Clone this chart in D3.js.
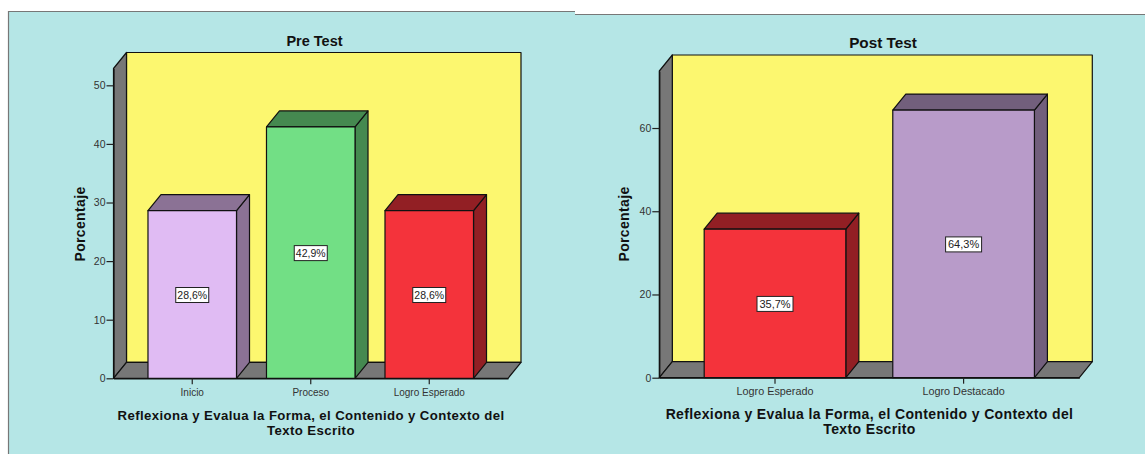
<!DOCTYPE html>
<html><head><meta charset="utf-8">
<script src="https://cdn.jsdelivr.net/npm/d3@7"></script>
<style>html,body{margin:0;padding:0;background:#fff}svg{display:block}text{font-family:"Liberation Sans",Arial,sans-serif}</style>
</head><body><svg id="c" width="1145" height="454"></svg>
<script>
const preCategories = ["Inicio","Proceso","Logro Esperado"];
const preValues = [28.6,42.9,28.6];
const preLabels = ["28,6%","42,9%","28,6%"];
const preColors = ["#e0bbf3","#72df85","#f4333b"];
const preDark = ["#8b7295","#458950","#921f24"];
const preTicks = [0,10,20,30,40,50];
const postCategories = ["Logro Esperado","Logro Destacado"];
const postValues = [35.7,64.3];
const postLabels = ["35,7%","64,3%"];
const postColors = ["#f4333b","#b89bc9"];
const postDark = ["#921f24","#725f7c"];
const postTicks = [0,20,40,60];
const xTitleLines = ["Reflexiona y Evalua la Forma, el Contenido y Contexto del","Texto Escrito"];

const svg = d3.select("#c");
const BG="#b5e6e6", WALL="#fcf76f", SIDE="#777777", INK="#111";
svg.append("path").attr("d","M8 454V11.5H575V14.5H1145V454Z").attr("fill",BG);
svg.append("path").attr("d","M8.5 454V11.5H575M575 14.5H1145").attr("fill","none").attr("stroke","#777").attr("stroke-width",1.2);

function chart(o){
  const g=svg.append("g"), dx=13, dy=16;
  const x=d3.scaleBand().domain(o.cats).range([o.x0,o.x1]).paddingInner(o.pi).paddingOuter(o.po).align(.5);
  const y=d3.scaleLinear().domain([0,o.max]).range([o.y0,o.yTop]);
  const line=(pts,fill)=>g.append("path").attr("d","M"+pts.map(p=>p.join(" ")).join("L")+"Z")
    .attr("fill",fill).attr("stroke",INK).attr("stroke-width",1.2).attr("stroke-linejoin","round");
  line([[o.x0+dx,o.yTop-dy],[o.x1+dx,o.yTop-dy],[o.x1+dx,o.y0-dy],[o.x0+dx,o.y0-dy]],WALL);
  line([[o.x0,o.yTop],[o.x0+dx,o.yTop-dy],[o.x0+dx,o.y0-dy],[o.x0,o.y0]],SIDE);
  line([[o.x0,o.y0],[o.x0+dx,o.y0-dy],[o.x1+dx,o.y0-dy],[o.x1,o.y0]],SIDE);
  o.vals.forEach((v,i)=>{
    const l=x(o.cats[i]), r=l+x.bandwidth(), t=y(v), b=y(0);
    line([[r,t],[r+dx,t-dy],[r+dx,b-dy],[r,b]],o.dark[i]);
    line([[l,t],[l+dx,t-dy],[r+dx,t-dy],[r,t]],o.dark[i]);
    line([[l,t],[r,t],[r,b],[l,b]],o.colors[i]);
    const cx=(l+r)/2, cy=(t+b)/2;
    g.append("rect").attr("x",cx-o.boxW/2).attr("y",cy-7.5+.5).attr("width",o.boxW).attr("height",15)
      .attr("fill","#fff").attr("stroke","#222").attr("stroke-width",1);
    g.append("text").attr("x",cx).attr("y",cy+4.3).attr("text-anchor","middle").attr("font-size",o.valFont).attr("fill","#222").text(o.labels[i]);
  });
  const ya=g.append("g").attr("transform",`translate(${o.x0},0)`).call(d3.axisLeft(y).tickValues(o.ticks).tickFormat(d3.format("d")).tickSizeInner(7).tickSizeOuter(0).tickPadding(1));
  const xa=g.append("g").attr("transform",`translate(0,${o.y0})`).call(d3.axisBottom(x).tickSizeInner(6).tickSizeOuter(0).tickPadding(o.xPad));
  [ya,xa].forEach(a=>{a.selectAll("text").attr("font-family","'Liberation Sans',Arial,sans-serif").attr("fill","#333");
    a.selectAll("line").attr("stroke","#222").attr("stroke-width",1.2);
    a.select(".domain").attr("stroke",INK).attr("stroke-width",1.2);});
  ya.selectAll("text").attr("font-size",10.5);
  xa.selectAll("text").attr("font-size",o.xFont);
  g.append("text").attr("x",o.titleX).attr("y",o.titleY).attr("text-anchor","middle").attr("font-weight","bold").attr("font-size",o.titleFont).attr("fill","#111").text(o.title);
  g.append("text").attr("transform",`translate(${o.yTitleX},224) rotate(-90)`).attr("text-anchor","middle").attr("font-weight","bold").attr("font-size",14).attr("letter-spacing",.35).attr("fill","#111").text("Porcentaje");
  xTitleLines.forEach((s,i)=>g.append("text").attr("x",o.xTitleX).attr("y",o.xTitleY+i*o.lh).attr("text-anchor","middle").attr("font-weight","bold").attr("font-size",o.xtFont).attr("letter-spacing",o.xtLs).attr("fill","#111").text(s));
}
chart({cats:preCategories,vals:preValues,labels:preLabels,colors:preColors,dark:preDark,ticks:preTicks,boxW:33,valFont:10.5,xFont:10,xPad:5,titleFont:14.5,xtFont:13.2,xtLs:.4,
  x0:113.5,x1:508,y0:378.3,yTop:68.5,max:52.87,pi:.253,po:.291,title:"Pre Test",titleX:314.5,titleY:46,yTitleX:84.5,xTitleX:311,xTitleY:420,lh:14.5});
chart({cats:postCategories,vals:postValues,labels:postLabels,colors:postColors,dark:postDark,ticks:postTicks,boxW:36,valFont:11,xFont:10.8,xPad:4,titleFont:15.3,xtFont:14,xtLs:.37,
  x0:659.3,x1:1079.3,y0:377.7,yTop:71,max:73.7,pi:.249,po:.238,title:"Post Test",titleX:883,titleY:48,yTitleX:628.5,xTitleX:869.5,xTitleY:419,lh:14.5});
</script></body></html>
